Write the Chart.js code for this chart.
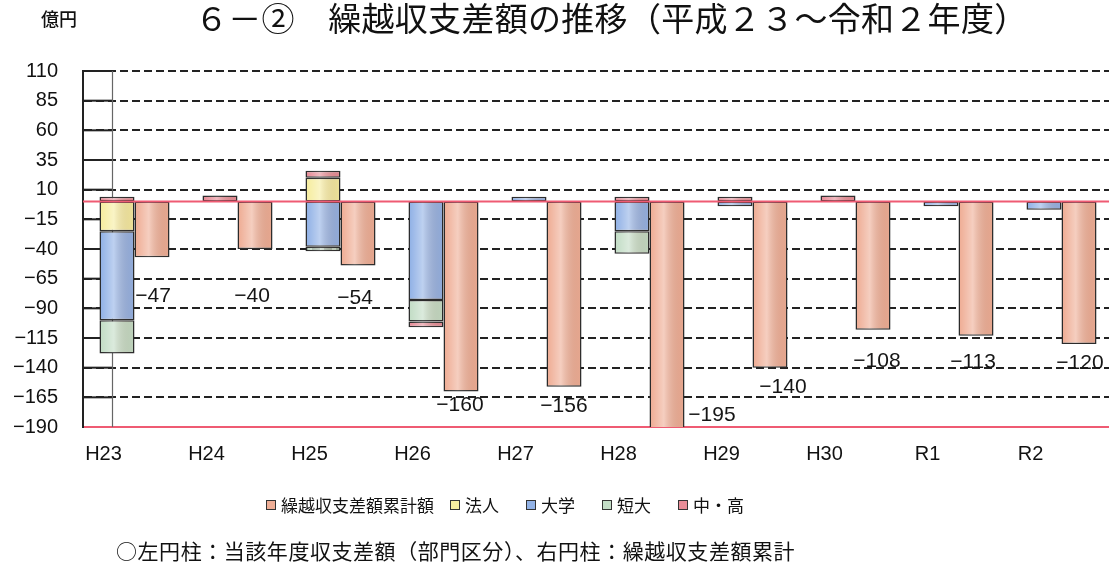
<!DOCTYPE html>
<html><head><meta charset="utf-8">
<script src="https://cdn.jsdelivr.net/npm/chart.js@4"></script>
<style>
html,body{margin:0;padding:0;background:#fff;overflow:hidden;width:1109px;height:566px;}
#wrap{position:absolute;left:0;top:0;width:1120px;height:566px;}
.t{position:absolute;white-space:nowrap;color:#111;font-family:"Noto Sans CJK JP",sans-serif;}
#title{left:195px;top:1px;font-size:33px;line-height:33px;letter-spacing:0.3px;}
#unit{left:41px;top:9px;font-size:18px;line-height:18px;font-weight:500;}
#note{left:116px;top:540px;font-size:21px;line-height:21px;letter-spacing:0.55px;}
#legend{position:absolute;left:266px;top:496px;display:flex;gap:27px;font-family:"Noto Sans CJK JP",sans-serif;font-size:17px;line-height:17px;color:#111;}
#legend .li:first-child{margin-right:-11px;}
.li{display:flex;align-items:center;}
.sw{width:8px;height:8px;border:1px solid #333;margin-right:5px;}
</style></head>
<body>
<div id="wrap"><canvas id="c"></canvas></div>
<div class="t" id="unit">億円</div>
<div class="t" id="title">６－②　繰越収支差額の推移（平成２３～令和２年度）</div>
<div id="legend"></div>
<div class="t" id="note">○左円柱：当該年度収支差額（部門区分）、右円柱：繰越収支差額累計</div>
<script>
// ---- data ----
const categories = ['H23','H24','H25','H26','H27','H28','H29','H30','R1','R2'];
const houjin     = [-25, null, 20, null, null, null, null, null, null, null];   // 法人
const daigaku    = [-75, null, -38, -83, 4, -25, -4, null, -4, -7];             // 大学
const tandai     = [-28, null, -4, -18, null, -19, null, null, null, null];     // 短大
const chuko      = [4, 5, 6, -5, null, 4, 4, 5, null, null];                    // 中・高
const cumulative = [-47, -40, -54, -160, -156, -195, -140, -108, -113, -120];   // 繰越収支差額累計額
const yMin = -190, yMax = 110, yStep = 25;
const legendOrder = ['繰越収支差額累計額','法人','大学','短大','中・高'];

// ---- styles ----
const colors = {
  '法人':'#f6eda0', '大学':'#92b2e6', '短大':'#c3ddc6', '中・高':'#e78c97', '繰越収支差額累計額':'#efae96'
};
const labelDx = [1,-3,-3,-1,0,45,13,4,-3,1];
const labelDy = [39,47,33,14,20,-12,20,32,27,19];
const fmt = v => v < 0 ? '\u2212' + Math.abs(v) : String(v);

const mk = (label, data, stack) => ({
  label, data, stack,
  backgroundColor: colors[label], borderColor: '#2b2b2b', borderWidth: 1.5, borderSkipped: false
});

const decor = {
  id: 'decor',
  beforeDatasetsDraw(chart) {
    const {ctx, chartArea: a, scales: {y}} = chart;
    ctx.save();
    ctx.strokeStyle = '#222'; ctx.lineWidth = 2;
    y.ticks.forEach(t => {
      if (t.value === 0 || t.value === yMin) return;
      const py = y.getPixelForValue(t.value);
      ctx.beginPath(); ctx.moveTo(a.left, py); ctx.lineTo(a.left + 29, py); ctx.stroke();
    });
    ctx.strokeStyle = '#666'; ctx.lineWidth = 1.2;
    ctx.beginPath(); ctx.moveTo(a.left + 29.5, a.top); ctx.lineTo(a.left + 29.5, a.bottom); ctx.stroke();
    ctx.restore();
  },
  afterDatasetsDraw(chart) {
    const {ctx, chartArea: a, scales: {y}} = chart;
    ctx.save();
    ctx.beginPath(); ctx.rect(a.left, a.top, a.right - a.left, a.bottom - a.top); ctx.clip();
    chart.data.datasets.forEach((ds, di) => {
      const meta = chart.getDatasetMeta(di);
      meta.data.forEach((el, i) => {
        if (ds.data[i] == null) return;
        const p = el.getProps(['x','y','base','width'], true);
        const l = p.x - p.width/2 + 1.5, r = p.x + p.width/2 - 1.5;
        const t = Math.min(p.y, p.base) + 1, b = Math.max(p.y, p.base) - 1;
        if (b - t < 1) return;
        const g = ctx.createLinearGradient(l, 0, r, 0);
        g.addColorStop(0, 'rgba(255,255,255,0)');
        g.addColorStop(0.4, 'rgba(255,255,255,0.4)');
        g.addColorStop(1, 'rgba(120,80,60,0.08)');
        ctx.fillStyle = g; ctx.fillRect(l, t, r - l, b - t);
      });
    });
    ctx.restore();
    // zero line
    ctx.save();
    const y0 = y.getPixelForValue(0);
    ctx.strokeStyle = '#ef5b73'; ctx.lineWidth = 2;
    ctx.beginPath(); ctx.moveTo(a.left, y0); ctx.lineTo(a.right, y0); ctx.stroke();
    // labels for cumulative
    const di = chart.data.datasets.findIndex(d => d.label === '繰越収支差額累計額');
    const meta = chart.getDatasetMeta(di);
    ctx.fillStyle = '#151515';
    ctx.font = '21px "Liberation Sans", Arial, sans-serif';
    ctx.textAlign = 'center'; ctx.textBaseline = 'middle';
    meta.data.forEach((el, i) => {
      const yy = Math.min(el.y, a.bottom) + labelDy[i];
      ctx.fillText(fmt(cumulative[i]), el.x + labelDx[i], yy);
    });
    ctx.restore();
  }
};

const chart = new Chart(document.getElementById('c'), {
  type: 'bar',
  data: {
    labels: categories,
    datasets: [
      mk('法人', houjin, 'parts'),
      mk('大学', daigaku, 'parts'),
      mk('短大', tandai, 'parts'),
      mk('中・高', chuko, 'parts'),
      mk('繰越収支差額累計額', cumulative, 'cum')
    ]
  },
  options: {
    responsive: true, maintainAspectRatio: false, animation: false,
    layout: { padding: { top: 71, right: 7, bottom: 0, left: 0 } },
    datasets: { bar: { categoryPercentage: 0.68, barPercentage: 1.0 } },
    plugins: { legend: { display: false }, tooltip: { enabled: false } },
    scales: {
      x: {
        stacked: true,
        grid: { display: false, drawTicks: false },
        border: { display: true, color: '#ef5b73', width: 2 },
        ticks: { color: '#111', font: { family: '"Liberation Sans", Arial, sans-serif', size: 20 }, padding: 15, labelOffset: -31, maxRotation: 0 },
        afterFit: s => { s.height = 139; }
      },
      y: {
        stacked: true, min: yMin, max: yMax,
        grid: { drawTicks: false, lineWidth: 2,
          color: c => (c.tick && (c.tick.value === 0 || c.tick.value === yMin)) ? 'rgba(0,0,0,0)' : '#222' },
        border: { display: true, color: '#222', width: 2, dash: [8, 4] },
        ticks: { stepSize: yStep, color: '#111', padding: 25,
          font: { family: '"Liberation Sans", Arial, sans-serif', size: 20 },
          callback: v => fmt(v) },
        afterFit: s => { s.width = 83; }
      }
    }
  },
  plugins: [decor]
});

// HTML legend built from dataset labels/colours
const lg = document.getElementById('legend');
legendOrder.forEach(name => {
  const it = document.createElement('div'); it.className = 'li';
  const sw = document.createElement('span'); sw.className = 'sw'; sw.style.background = colors[name];
  const tx = document.createElement('span'); tx.textContent = name;
  it.appendChild(sw); it.appendChild(tx); lg.appendChild(it);
});
</script>
</body></html>
